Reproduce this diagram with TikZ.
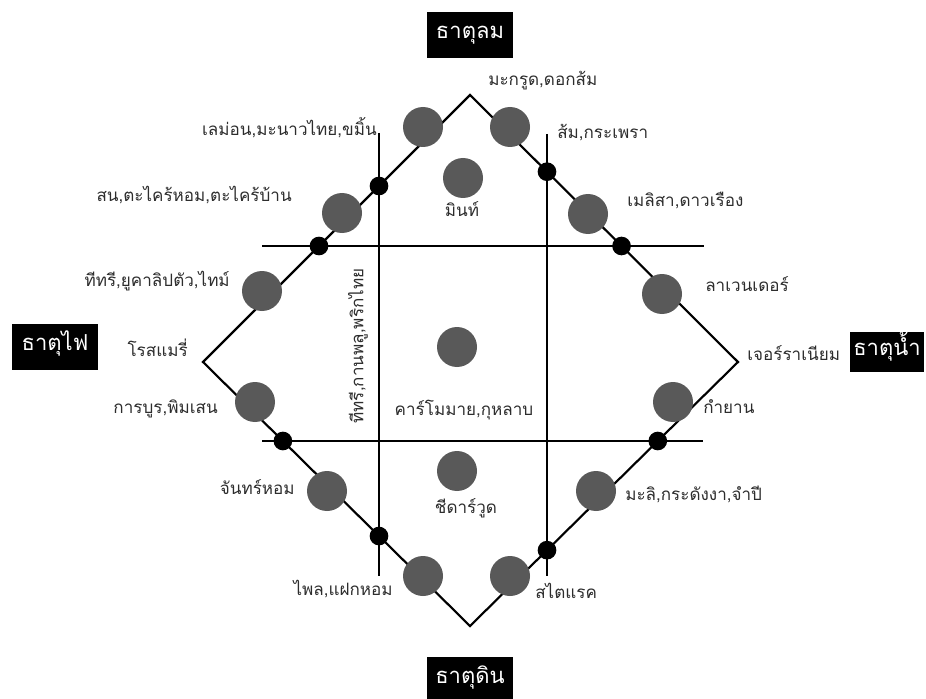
\documentclass[tikz,border=0pt]{standalone}
\usepackage{fontspec}
\setmainfont[Script=Thai]{Loma}
\usetikzlibrary{intersections}
\definecolor{gcol}{RGB}{89,89,89}
\definecolor{tcol}{RGB}{45,45,45}
\tikzset{
  edge/.style={line width=1.6pt, line cap=round, line join=miter},
  grid/.style={line width=1.6pt},
  herb/.style={circle, fill=gcol, minimum size=30pt, inner sep=0},
  bdot/.style={circle, fill=black, minimum size=14pt, inner sep=0},
  lbl/.style={inner sep=0, text=tcol, font=\fontsize{12.8}{15}\selectfont, text height=0.75em, text depth=0.25em},
  elem/.style={fill=black, text=white, inner sep=0, font=\fontsize{16.5}{19}\selectfont, text height=0.75em, text depth=0.25em}
}
\begin{document}
\begin{tikzpicture}[x=0.75pt,y=-0.75pt]
\useasboundingbox (0,0) rectangle (926,699);
\fill[white] (0,0) rectangle (926,699);
% diamond vertices
\coordinate (T) at (470,95);
\coordinate (R) at (738,362);
\coordinate (B) at (470,626);
\coordinate (L) at (203,362);
% grid line ends
\coordinate (v1a) at (379,133); \coordinate (v1b) at (379,576);
\coordinate (v2a) at (547,134); \coordinate (v2b) at (547,576);
\coordinate (h1a) at (262,246); \coordinate (h1b) at (704,246);
\coordinate (h2a) at (262,441); \coordinate (h2b) at (703,441);
\draw[edge] (T) -- (R) -- (B) -- (L) -- cycle;
\draw[grid] (v1a) -- (v1b);
\draw[grid] (v2a) -- (v2b);
\draw[grid] (h1a) -- (h1b);
\draw[grid] (h2a) -- (h2b);
% intersection dots
\path[name path=ul] (L) -- (T);
\path[name path=ur] (T) -- (R);
\path[name path=lr] (R) -- (B);
\path[name path=ll] (B) -- (L);
\path[name path=v1] (v1a) -- (v1b);
\path[name path=v2] (v2a) -- (v2b);
\path[name path=h1] (h1a) -- (h1b);
\path[name path=h2] (h2a) -- (h2b);
\path[name intersections={of=ul and v1, by=i1}];
\path[name intersections={of=ul and h1, by=i2}];
\path[name intersections={of=ur and v2, by=i3}];
\path[name intersections={of=ur and h1, by=i4}];
\path[name intersections={of=ll and h2, by=i5}];
\path[name intersections={of=ll and v1, by=i6}];
\path[name intersections={of=lr and h2, by=i7}];
\path[name intersections={of=lr and v2, by=i8}];
\foreach \i in {1,...,8} { \node[bdot] (dot\i) at (i\i) {}; }
% herb circles
\node[herb] (c1) at (423,127) {};
\node[herb] (c2) at (510,127) {};
\node[herb] (c3) at (342,213) {};
\node[herb] (c4) at (588,214) {};
\node[herb] (c5) at (262,291) {};
\node[herb] (c6) at (662,294) {};
\node[herb] (c7) at (255,402) {};
\node[herb] (c8) at (673,402) {};
\node[herb] (c9) at (327,491) {};
\node[herb] (c10) at (596,491) {};
\node[herb] (c11) at (423,576) {};
\node[herb] (c12) at (510,576) {};
\node[herb] (c13) at (463,178) {};
\node[herb] (c14) at (457,347) {};
\node[herb] (c15) at (457,471) {};
% element boxes
\node[elem, minimum width=64.5pt, minimum height=34pt] (air) at (470,35) {ธาตุลม};
\node[elem, minimum width=64.5pt, minimum height=35pt] (fire) at (55,347) {ธาตุไฟ};
\node[elem, minimum width=55pt, minimum height=30pt] (water) at (887,352) {ธาตุน้ำ};
\node[elem, minimum width=64.5pt, minimum height=35pt] (earth) at (470,680) {ธาตุดิน};
% labels left side
\node[lbl, anchor=east] (t1) at (377,132) {เลม่อน,มะนาวไทย,ขมิ้น};
\node[lbl, anchor=east] (t2) at (292,198) {สน,ตะไคร้หอม,ตะไคร้บ้าน};
\node[lbl, anchor=east] (t3) at (230,283) {ทีทรี,ยูคาลิปตัว,ไทม์};
\node[lbl, anchor=east] (t4) at (188,353) {โรสแมรี่};
\node[lbl, anchor=east] (t5) at (218,410) {การบูร,พิมเสน};
\node[lbl, anchor=east] (t6) at (295,491) {จันทร์หอม};
\node[lbl, anchor=east] (t7) at (393,592) {ไพล,แฝกหอม};
% labels right side
\node[lbl, anchor=west] (t8) at (488,82) {มะกรูด,ดอกส้ม};
\node[lbl, anchor=west] (t9) at (557,135) {ส้ม,กระเพรา};
\node[lbl, anchor=west] (t10) at (627,203) {เมลิสา,ดาวเรือง};
\node[lbl, anchor=west] (t11) at (705,288) {ลาเวนเดอร์};
\node[lbl, anchor=west] (t12) at (747,357) {เจอร์ราเนียม};
\node[lbl, anchor=west] (t13) at (703,410) {กำยาน};
\node[lbl, anchor=west] (t14) at (625,497) {มะลิ,กระดังงา,จำปี};
\node[lbl, anchor=west] (t15) at (535,595) {สไตแรค};
% center labels
\node[lbl] (t16) at (462,213) {มินท์};
\node[lbl] (t17) at (464,412) {คาร์โมมาย,กุหลาบ};
\node[lbl] (t18) at (466,510) {ชีดาร์วูด};
\node[lbl, rotate=90] (t19) at (360,346) {ทีทรี,กานพลู,พริกไทย};
\end{tikzpicture}
\end{document}
